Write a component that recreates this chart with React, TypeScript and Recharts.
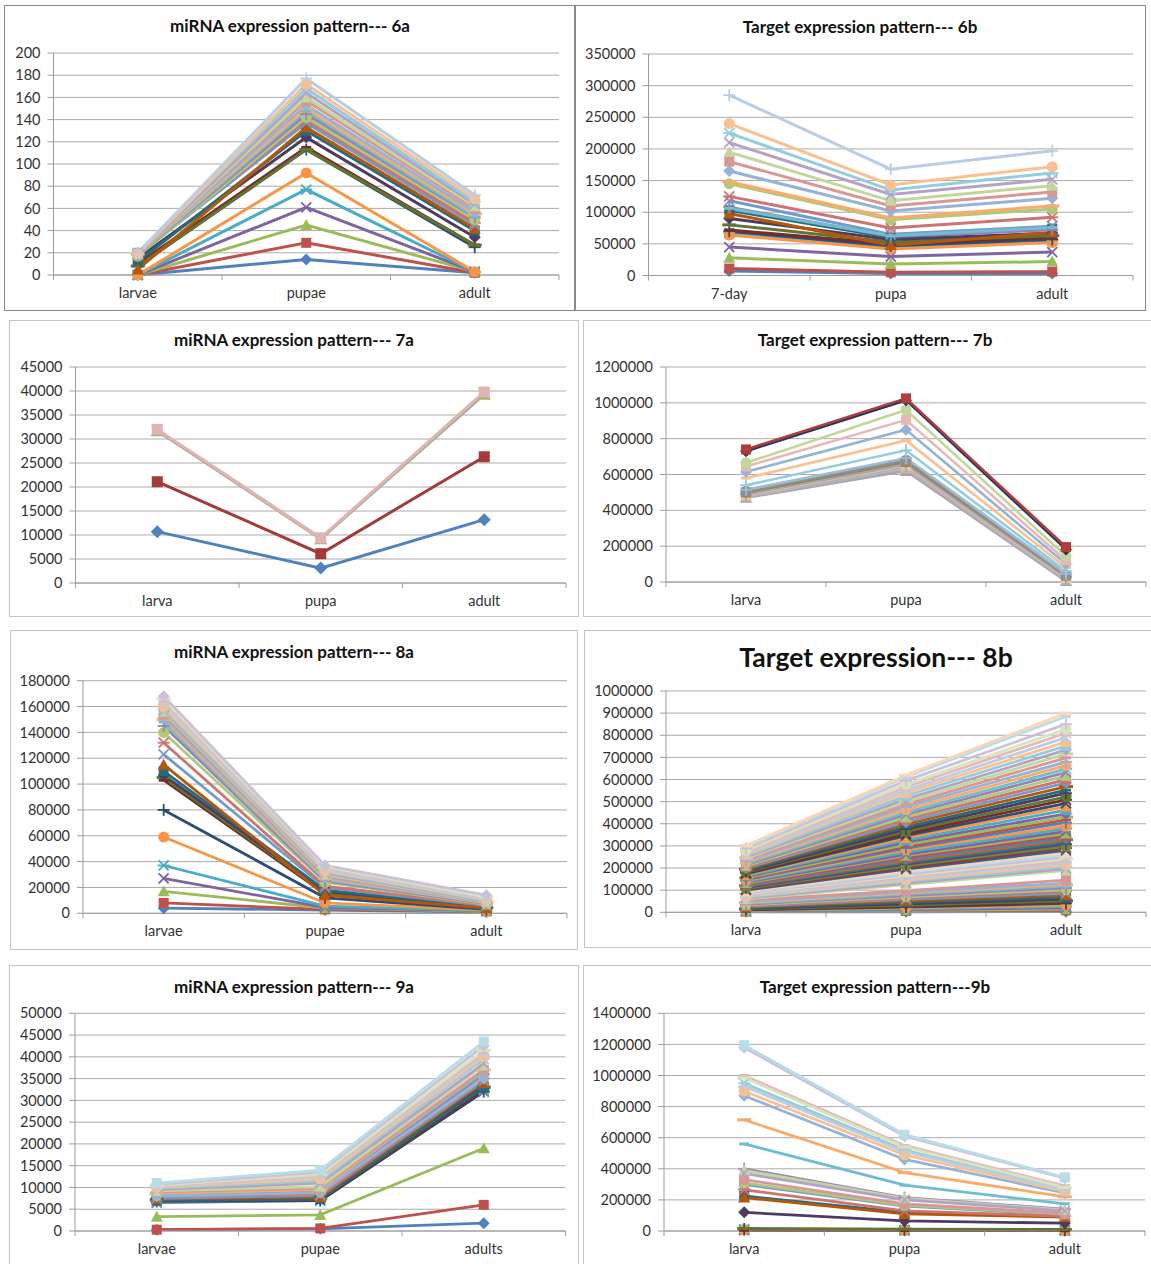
import React from 'react';
import { LineChart, Line, XAxis, YAxis, CartesianGrid } from 'recharts';

// ---- categories ----
const stages6a = ['larvae', 'pupae', 'adult'];
const stages6b = ['7-day', 'pupa', 'adult'];
const stages7a = ['larva', 'pupa', 'adult'];
const stages7b = ['larva', 'pupa', 'adult'];
const stages8a = ['larvae', 'pupae', 'adult'];
const stages8b = ['larva', 'pupa', 'adult'];
const stages9a = ['larvae', 'pupae', 'adults'];
const stages9b = ['larva', 'pupa', 'adult'];

// ---- y ticks ----
const ticks6a = [0, 20, 40, 60, 80, 100, 120, 140, 160, 180, 200];
const ticks6b = [0, 50000, 100000, 150000, 200000, 250000, 300000, 350000];
const ticks7a = [0, 5000, 10000, 15000, 20000, 25000, 30000, 35000, 40000, 45000];
const ticks7b = [0, 200000, 400000, 600000, 800000, 1000000, 1200000];
const ticks8a = [0, 20000, 40000, 60000, 80000, 100000, 120000, 140000, 160000, 180000];
const ticks8b = [0, 100000, 200000, 300000, 400000, 500000, 600000, 700000, 800000, 900000, 1000000];
const ticks9a = [0, 5000, 10000, 15000, 20000, 25000, 30000, 35000, 40000, 45000, 50000];
const ticks9b = [0, 200000, 400000, 600000, 800000, 1000000, 1200000, 1400000];

// ---- series values (one row per series: stage1, stage2, stage3) ----
const mirna6a = [
  [0, 14, 2], [0, 29, 2], [0, 45, 3], [0, 61, 3], [0, 77, 3], [0, 92, 3],
  [8, 113, 25], [10, 115, 27], [8, 113, 27], [15, 124, 34], [12, 130, 40], [5, 133, 42],
  [18, 137, 45], [18, 140, 47], [17, 142, 50], [18, 145, 52], [18, 148, 53], [19, 150, 55],
  [20, 153, 57], [20, 157, 60], [19, 160, 62], [19, 164, 64], [20, 168, 66], [19, 172, 69],
  [20, 177, 72],
];

const target6b = [
  [7000, 3000, 3000], [11000, 5000, 6000], [28000, 18000, 22000], [45000, 30000, 37000],
  [67000, 44000, 55000], [64000, 42000, 52000], [70000, 47000, 57000], [72000, 50000, 60000],
  [80000, 53000, 63000], [90000, 57000, 67000], [103000, 60000, 74000], [98000, 48000, 68000],
  [118000, 65000, 78000], [125000, 75000, 92000], [145000, 88000, 105000], [108000, 62000, 72000],
  [106000, 63000, 76000], [148000, 91000, 110000], [165000, 102000, 122000], [180000, 110000, 132000],
  [195000, 118000, 142000], [210000, 128000, 152000], [225000, 135000, 162000], [240000, 143000, 172000],
  [285000, 168000, 197000],
];

const mirna7a = [
  [10700, 3100, 13200], [21100, 6100, 26300], [31700, 9200, 39300],
  [31800, 9300, 39500], [32000, 9400, 39800],
];

const target7b = [
  [470000, 620000, 5000], [474000, 628000, 9000], [478000, 636000, 14000], [482000, 644000, 18000],
  [486000, 650000, 22000], [490000, 656000, 27000], [495000, 664000, 31000], [500000, 670000, 36000],
  [506000, 680000, 40000], [515000, 692000, 46000],
  [540000, 735000, 60000], [580000, 790000, 80000], [615000, 850000, 100000], [645000, 905000, 120000],
  [665000, 960000, 145000], [730000, 1015000, 182000], [740000, 1025000, 195000],
];

const mirna8a = [
  [4000, 2500, 1000], [8000, 3000, 1500], [17000, 4000, 1500], [27000, 4500, 2000],
  [37000, 5500, 2000], [59000, 8000, 2500], [80000, 12000, 3000], [103000, 15000, 4000],
  [105000, 16000, 4500], [107000, 17000, 5000], [110000, 18000, 5000], [115000, 14000, 4000],
  [123000, 20000, 6000], [132000, 21000, 6500], [140000, 24000, 7000], [145000, 25000, 7500],
  [148000, 26000, 8000], [150000, 27000, 8000], [152000, 28000, 8500], [154000, 29000, 9000],
  [156000, 30000, 9000], [157000, 31000, 9500], [158000, 32000, 10000], [160000, 33000, 10500],
  [162000, 34000, 11000], [164000, 35000, 12000], [166000, 36000, 12500], [168000, 37000, 14000],
];

const target8b = [
  [2000, 2500, 3000], [3000, 6000, 9000], [5000, 9000, 14000], [6000, 12000, 20000],
  [8000, 16000, 26000], [9000, 20000, 32000], [11000, 24000, 40000], [13000, 27000, 45000],
  [15000, 31000, 52000], [18000, 38000, 60000], [20000, 45000, 68000], [24000, 52000, 78000],
  [27000, 58000, 86000], [30000, 64000, 95000], [33000, 70000, 102000], [36000, 76000, 110000],
  [40000, 82000, 118000], [44000, 88000, 125000], [48000, 92000, 132000], [55000, 98000, 145000],
  [60000, 125000, 190000], [64000, 132000, 198000], [68000, 140000, 205000], [72000, 146000, 215000],
  [75000, 152000, 225000], [80000, 160000, 232000], [84000, 166000, 242000], [88000, 172000, 250000],
  [92000, 180000, 262000], [96000, 186000, 270000], [100000, 195000, 280000], [104000, 202000, 290000],
  [108000, 210000, 298000], [112000, 218000, 308000], [116000, 226000, 318000], [120000, 232000, 328000],
  [124000, 240000, 336000], [128000, 248000, 346000], [132000, 256000, 356000], [136000, 262000, 366000],
  [140000, 272000, 378000], [144000, 282000, 390000], [148000, 290000, 405000], [152000, 298000, 418000],
  [156000, 306000, 430000], [160000, 316000, 445000], [165000, 326000, 462000], [170000, 336000, 478000],
  [174000, 346000, 492000], [178000, 356000, 508000], [182000, 366000, 522000], [186000, 376000, 538000],
  [190000, 386000, 552000], [195000, 398000, 568000], [200000, 408000, 585000], [205000, 420000, 600000],
  [210000, 430000, 616000], [215000, 442000, 632000], [220000, 452000, 648000], [226000, 464000, 664000],
  [232000, 476000, 680000], [238000, 488000, 698000], [244000, 500000, 716000], [250000, 512000, 734000],
  [256000, 526000, 752000], [262000, 540000, 770000], [268000, 552000, 790000], [274000, 566000, 810000],
  [280000, 578000, 828000], [288000, 595000, 850000], [296000, 612000, 885000], [302000, 620000, 900000],
];

const mirna9a = [
  [300, 500, 1800], [300, 600, 6000], [3300, 3700, 19000], [6500, 7000, 32000],
  [6700, 7200, 32500], [7000, 7800, 34000], [6800, 7000, 32000], [7000, 7200, 32500],
  [7200, 7500, 33000], [7500, 8000, 33500], [7000, 7300, 33000], [7300, 7800, 34000],
  [7500, 8200, 34500], [8000, 8500, 35000], [8200, 9000, 35500], [8300, 9200, 36000],
  [8500, 9500, 36500], [8700, 9500, 37000], [8000, 8800, 35000], [9000, 9800, 37000],
  [9200, 10200, 38000], [9500, 11000, 38500], [9800, 11500, 39500], [10000, 12000, 40000],
  [10200, 12500, 40500], [10300, 12800, 41000], [10500, 13000, 41500], [10700, 13500, 42500],
  [11000, 14000, 43500],
];

const target9b = [
  [5000, 3000, 2000], [8000, 5000, 4000], [14000, 11000, 9000], [6000, 4000, 3000],
  [10000, 7000, 5000], [7000, 5000, 4000], [12000, 9000, 7000], [4000, 3000, 2000],
  [16000, 12000, 10000], [120000, 65000, 50000], [225000, 120000, 92000], [215000, 110000, 90000],
  [300000, 160000, 105000], [265000, 130000, 95000], [310000, 165000, 110000], [400000, 215000, 140000],
  [560000, 295000, 175000], [715000, 375000, 220000], [870000, 460000, 245000], [330000, 175000, 115000],
  [390000, 210000, 135000], [370000, 200000, 130000], [950000, 520000, 270000], [900000, 490000, 255000],
  [930000, 510000, 265000], [1000000, 550000, 290000], [985000, 540000, 280000], [1180000, 610000, 340000],
  [1195000, 620000, 345000],
];

// ---- styling ----
const PALETTE = [
  '#4F81BD', '#C0504D', '#9BBB59', '#8064A2', '#4BACC6', '#F79646',
  '#2C4D75', '#772C2A', '#5F7530', '#4D3B62', '#276A7C', '#B65708',
  '#729ACA', '#CD7371', '#AFC97A', '#9983B5', '#6FBDD1', '#F9AB6B',
  '#95B3D7', '#D99694', '#C3D69B', '#B3A2C7', '#93CDDD', '#FAC090',
  '#B9CDE5', '#E6B9B8', '#D7E4BD', '#CCC1DA', '#B7DEE8', '#FCD5B5',
  '#3A5F8E', '#8E3A38', '#6B8A3A', '#5A4878', '#2F7C91', '#C8661A',
  '#4F81BD', '#C0504D', '#9BBB59', '#8064A2', '#4BACC6', '#F79646',
];
const MARKERS = ['diamond', 'square', 'triangle', 'x', 'star', 'circle', 'plus', 'dash', 'bar'];

interface SeriesStyle {
  color: string;
  marker: string;
}

const styles7a: SeriesStyle[] = [
  { color: '#4F81BD', marker: 'diamond' },
  { color: '#A23B3A', marker: 'square' },
  { color: '#9BBB59', marker: 'triangle' },
  { color: '#B3A2C7', marker: 'x' },
  { color: '#E0B4B3', marker: 'square' },
];

const styles7b: SeriesStyle[] = [
  { color: '#A6A6A6', marker: 'triangle' },
  { color: '#B3A2C7', marker: 'x' },
  { color: '#C4BD97', marker: 'square' },
  { color: '#95B3D7', marker: 'circle' },
  { color: '#FAC090', marker: 'triangle' },
  { color: '#A5A5A5', marker: 'plus' },
  { color: '#B2A1C7', marker: 'diamond' },
  { color: '#938953', marker: 'square' },
  { color: '#8F8F8F', marker: 'circle' },
  { color: '#9BBBD9', marker: 'plus' },
  { color: '#93CDDD', marker: 'plus' },
  { color: '#FAC090', marker: 'dash' },
  { color: '#95B3D7', marker: 'diamond' },
  { color: '#E6B9B8', marker: 'square' },
  { color: '#C3D69B', marker: 'circle' },
  { color: '#1F3864', marker: 'diamond' },
  { color: '#B23C3A', marker: 'square' },
];

function defaultStyle(i: number): SeriesStyle {
  return { color: PALETTE[i % PALETTE.length], marker: MARKERS[i % MARKERS.length] };
}

function Marker({ cx, cy, shape, color, size }: { cx?: number; cy?: number; shape: string; color: string; size: number }) {
  if (cx == null || cy == null || isNaN(cx) || isNaN(cy)) return null;
  const h = size / 2;
  switch (shape) {
    case 'diamond':
      return <polygon points={`${cx},${cy - h - 1} ${cx + h + 1},${cy} ${cx},${cy + h + 1} ${cx - h - 1},${cy}`} fill={color} />;
    case 'square':
      return <rect x={cx - h} y={cy - h} width={size} height={size} fill={color} />;
    case 'triangle':
      return <polygon points={`${cx},${cy - h - 1} ${cx + h + 1},${cy + h} ${cx - h - 1},${cy + h}`} fill={color} />;
    case 'circle':
      return <circle cx={cx} cy={cy} r={h + 0.5} fill={color} />;
    case 'x':
      return (
        <g stroke={color} strokeWidth={1.8}>
          <line x1={cx - h} y1={cy - h} x2={cx + h} y2={cy + h} />
          <line x1={cx - h} y1={cy + h} x2={cx + h} y2={cy - h} />
        </g>
      );
    case 'star':
      return (
        <g stroke={color} strokeWidth={1.8}>
          <line x1={cx - h} y1={cy - h} x2={cx + h} y2={cy + h} />
          <line x1={cx - h} y1={cy + h} x2={cx + h} y2={cy - h} />
          <line x1={cx - h - 1} y1={cy} x2={cx + h + 1} y2={cy} />
        </g>
      );
    case 'plus':
      return (
        <g stroke={color} strokeWidth={1.8}>
          <line x1={cx - h - 1} y1={cy} x2={cx + h + 1} y2={cy} />
          <line x1={cx} y1={cy - h - 1} x2={cx} y2={cy + h + 1} />
        </g>
      );
    case 'dash':
      return <rect x={cx - h} y={cy - 1.5} width={size} height={3} fill={color} />;
    case 'bar':
      return <rect x={cx - h - 2} y={cy - 1.5} width={size + 4} height={3} fill={color} />;
    default:
      return null;
  }
}

const FONT = 'Lato, "Open Sans", sans-serif';
const AXIS = '#9c9c9c';

function XTick(props: any) {
  const { x, y, payload, index, band, count } = props;
  return (
    <g>
      <line x1={x - band / 2} x2={x - band / 2} y1={y} y2={y + 5} stroke={AXIS} />
      {index === count - 1 && <line x1={x + band / 2} x2={x + band / 2} y1={y} y2={y + 5} stroke={AXIS} />}
      <text x={x} y={y + 18} dy="0.35em" textAnchor="middle" fill="#333" fontSize={14.5} fontFamily={FONT}>
        {payload.value}
      </text>
    </g>
  );
}

interface PanelProps {
  box: number[];
  plot: number[];
  title: string;
  titleY: number;
  titleSize?: number;
  cats: string[];
  ticks: number[];
  series: number[][];
  styles?: SeriesStyle[];
  markerSize?: number;
  lineWidth?: number;
  frame: string;
}

function Panel({ box, plot, title, titleY, titleSize = 17, cats, ticks, series, styles, markerSize = 9, lineWidth = 2.8, frame }: PanelProps) {
  const [bx, by, bw, bh] = box;
  const [pl, pt, pr, pb] = plot;
  const band = (pr - pl) / cats.length;
  const xAxisH = 30;
  const margin = { top: pt - by, right: bx + bw - pr, left: 0, bottom: by + bh - pb - xAxisH };
  const rows = cats.map((c, ci) => {
    const r: Record<string, string | number> = { cat: c };
    series.forEach((s, si) => {
      r['s' + si] = s[ci];
    });
    return r;
  });
  return (
    <div style={{ position: 'absolute', left: bx, top: by, width: bw, height: bh }}>
      <LineChart width={bw} height={bh} data={rows} margin={margin}>
        <CartesianGrid vertical={false} stroke="#ababab" />
        <XAxis
          dataKey="cat"
          padding={{ left: band / 2, right: band / 2 }}
          height={xAxisH}
          interval={0}
          tickLine={false}
          tickSize={0}
          tickMargin={0}
          axisLine={{ stroke: AXIS }}
          tick={(p: any) => <XTick {...p} band={band} count={cats.length} />}
        />
        <YAxis
          width={pl - bx}
          domain={[0, ticks[ticks.length - 1]]}
          ticks={ticks}
          interval={0}
          tickSize={6}
          tickMargin={7}
          axisLine={{ stroke: AXIS }}
          tickLine={{ stroke: AXIS }}
          tick={{ fill: '#333', fontSize: 14.5, fontFamily: FONT }}
        />
        {series.map((_, si) => {
          const st = styles?.[si] ?? defaultStyle(si);
          return (
            <Line
              key={si}
              dataKey={'s' + si}
              stroke={st.color}
              strokeWidth={lineWidth}
              isAnimationActive={false}
              activeDot={false}
              dot={(d: any) => (
                <Marker key={`m-${si}-${d.index}`} cx={d.cx} cy={d.cy} shape={st.marker} color={st.color} size={markerSize} />
              )}
            />
          );
        })}
      </LineChart>
      <div
        style={{
          position: 'absolute',
          left: 0,
          width: bw,
          top: titleY - by - 17,
          height: 34,
          lineHeight: '34px',
          textAlign: 'center',
          fontFamily: FONT,
          fontWeight: 700,
          fontSize: titleSize,
          color: '#111',
          whiteSpace: 'nowrap',
        }}
      >
        {title}
      </div>
      <div style={{ position: 'absolute', inset: 0, border: `1px solid ${frame}`, pointerEvents: 'none' }} />
    </div>
  );
}

export default function App() {
  const dark = '#8a8a8a';
  const light = '#c4c4c4';
  return (
    <div style={{ position: 'absolute', left: 0, top: 0, width: 1151, height: 1264, overflow: 'hidden', background: '#fff' }}>
      <Panel box={[4, 5, 572, 306]} plot={[53.5, 53, 559, 275]} title="miRNA expression pattern--- 6a" titleY={26}
        cats={stages6a} ticks={ticks6a} series={mirna6a} markerSize={10} lineWidth={3} frame={dark} />
      <Panel box={[574, 5, 572, 306]} plot={[648.5, 54, 1133, 275.5]} title="Target expression pattern--- 6b" titleY={27}
        cats={stages6b} ticks={ticks6b} series={target6b} markerSize={10} lineWidth={3} frame={dark} />
      <Panel box={[9, 320, 570, 297]} plot={[75.5, 367, 566, 583]} title="miRNA expression pattern--- 7a" titleY={340}
        cats={stages7a} ticks={ticks7a} series={mirna7a} styles={styles7a} markerSize={11} lineWidth={3} frame={light} />
      <Panel box={[583, 320, 584, 297]} plot={[666, 367, 1146, 582]} title="Target expression pattern--- 7b" titleY={340}
        cats={stages7b} ticks={ticks7b} series={target7b} styles={styles7b} markerSize={10} lineWidth={2.6} frame={light} />
      <Panel box={[10, 630, 568, 320]} plot={[83, 680.7, 567, 913.3]} title="miRNA expression pattern--- 8a" titleY={652}
        cats={stages8a} ticks={ticks8a} series={mirna8a} markerSize={10} frame={light} />
      <Panel box={[584, 630, 584, 318]} plot={[666, 691, 1146, 912.3]} title="Target expression--- 8b" titleY={657} titleSize={26.5}
        cats={stages8b} ticks={ticks8b} series={target8b} markerSize={10} frame={light} />
      <Panel box={[9, 965, 570, 310]} plot={[75, 1013.3, 565.5, 1231]} title="miRNA expression pattern--- 9a" titleY={987}
        cats={stages9a} ticks={ticks9a} series={mirna9a} markerSize={10} frame={light} />
      <Panel box={[583, 965, 584, 310]} plot={[664, 1013.3, 1145, 1231]} title="Target expression pattern---9b" titleY={987}
        cats={stages9b} ticks={ticks9b} series={target9b} markerSize={10} frame={light} />
    </div>
  );
}
